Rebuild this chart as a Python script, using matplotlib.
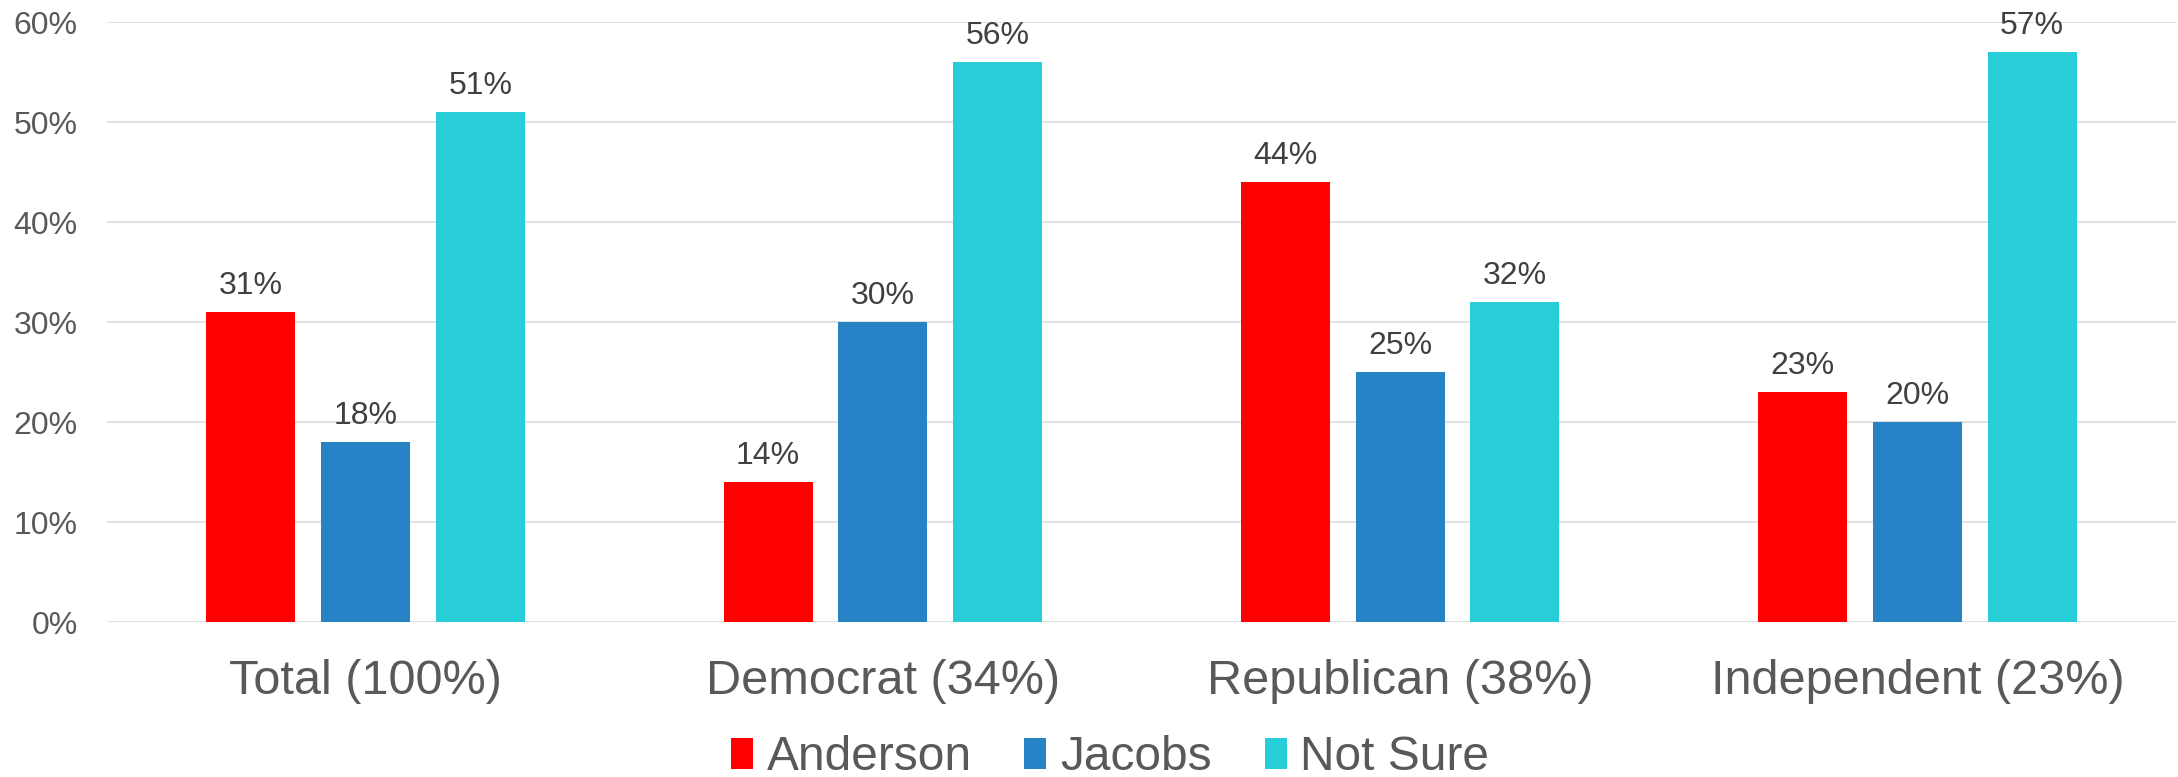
import matplotlib
matplotlib.use("Agg")
import matplotlib.pyplot as plt
import numpy as np

categories = ["Total (100%)", "Democrat (34%)", "Republican (38%)", "Independent (23%)"]
series_names = ["Anderson", "Jacobs", "Not Sure"]
anderson = [31, 14, 44, 23]
jacobs = [18, 30, 25, 20]
not_sure = [51, 56, 32, 57]
colors = ["#FF0000", "#2683C6", "#27CED7"]
yticks = [0, 10, 20, 30, 40, 50, 60]

plt.rcParams['font.family'] = ['Liberation Sans', 'DejaVu Sans']

fig = plt.figure(figsize=(21.78, 7.77), dpi=100)
ax = fig.add_axes([107/2178, 1-622/777, (2176-107)/2178, 600/777])

x = np.arange(len(categories))
width = 0.172
step = 0.222
for i, (vals, name, c) in enumerate(zip([anderson, jacobs, not_sure], series_names, colors)):
    pos = x + (i-1)*step
    ax.bar(pos, vals, width=width, color=c, label=name, zorder=3)
    for p, v in zip(pos, vals):
        ax.annotate(f"{v}%", (p, v), xytext=(0, 8), textcoords="offset points",
                    ha="center", va="bottom", fontsize=23, color="#404040")

ax.set_xlim(-0.5, 3.5)
ax.set_ylim(0, 60)
ax.set_yticks(yticks)
ax.set_yticklabels([f"{t}%" for t in yticks])
ax.set_xticks(x)
ax.set_xticklabels(categories)
ax.tick_params(axis='y', length=0, pad=21, labelsize=23, labelcolor="#595959")
ax.tick_params(axis='x', length=0, pad=27, labelsize=35, labelcolor="#595959")
ax.grid(axis='y', color="#D9D9D9", linewidth=1.1, zorder=0)
for s in ax.spines.values():
    s.set_visible(False)

fig.legend(loc='center', bbox_to_anchor=(1110/2178, 1-758/777), ncol=3, frameon=False,
           fontsize=34.5, handlelength=0.46, handleheight=0.6, handletextpad=0.29,
           columnspacing=1.1, borderpad=0, labelcolor="#595959")

fig.savefig("out.png", dpi=100)
